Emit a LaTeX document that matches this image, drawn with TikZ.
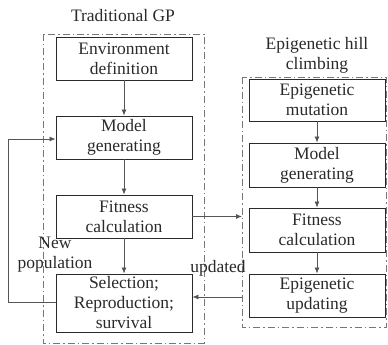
\documentclass[tikz,border=0pt]{standalone}
\usepackage{fontspec}
\setmainfont{Liberation Serif}
\usetikzlibrary{arrows.meta}
\definecolor{txt}{HTML}{2A2A2A}
\definecolor{ln}{HTML}{555555}
\definecolor{dsh}{HTML}{777777}
\tikzset{
  blk/.style={draw=txt, line width=0.9pt, minimum width=136pt, inner sep=0pt, align=center, text=txt,
    font=\fontsize{17.5}{20}\selectfont},
  lbl/.style={text=txt, align=center, inner sep=0pt, font=\fontsize{17.5}{20}\selectfont},
  arr/.style={draw=ln, line width=0.8pt, -{Latex[length=6pt,width=5pt]}},
  grp/.style={draw=dsh, line width=0.8pt, dash pattern=on 7pt off 3pt on 1.5pt off 3pt},
}
\begin{document}
\begin{tikzpicture}[x=1pt,y=-1pt]
\useasboundingbox (0,0) rectangle (388,345);
% group frames
\draw[grp] (43,34) rectangle (204,343);
\draw[grp] (242,77) rectangle (386,327);
\node[lbl] (t1) at (123,16) {Traditional GP};
\node[lbl] (t2) at (317,55) {Epigenetic hill\\climbing};
% left boxes
\node[blk, minimum height=43pt] (env) at (124,58.5) {Environment\\definition};
\node[blk, minimum height=43pt] (mod) at (124,137.5) {Model\\generating};
\node[blk, minimum height=43pt] (fit) at (124,216.5) {Fitness\\calculation};
\node[blk, minimum height=58pt] (sel) at (124,303) {Selection;\\Reproduction;\\survival};
% right boxes
\node[blk, minimum height=42pt] (mut) at (317,100) {Epigenetic\\mutation};
\node[blk, minimum height=44pt] (mod2) at (317,165) {Model\\generating};
\node[blk, minimum height=44pt] (fit2) at (317,230) {Fitness\\calculation};
\node[blk, minimum height=43pt] (upd) at (317,295.5) {Epigenetic\\updating};
% labels
\node[lbl] (np) at (55,255) {New\\population};
\node[lbl] (ud) at (218,268) {updated};
% coordinates
\coordinate (rin) at (242,216.5);
\coordinate (rout) at (242,297);
\coordinate (c1) at (8,302);
\coordinate (c2) at (8,139);
% arrows
\draw[arr] (env) -- (mod);
\draw[arr] (mod) -- (fit);
\draw[arr] (fit) -- (sel);
\draw[arr] (mut) -- (mod2);
\draw[arr] (mod2) -- (fit2);
\draw[arr] (fit2) -- (upd);
\draw[arr] (fit.east) -- (rin);
\draw[arr] (rout) -- (sel.east |- rout);
\draw[arr] (sel.west |- c1) -- (c1) -- (c2) -- (mod.west |- c2);
\end{tikzpicture}
\end{document}
